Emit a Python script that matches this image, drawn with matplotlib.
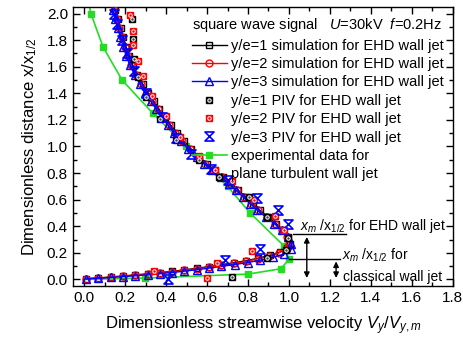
import matplotlib
matplotlib.use("Agg")
import matplotlib.pyplot as plt
from matplotlib.lines import Line2D
from matplotlib.path import Path
from matplotlib.ticker import MultipleLocator, FormatStrFormatter

plt.rcParams['font.family'] = ['Liberation Sans', 'DejaVu Sans']
plt.rcParams['mathtext.fontset'] = 'custom'
plt.rcParams['mathtext.rm'] = 'Liberation Sans'
plt.rcParams['mathtext.it'] = 'Liberation Sans:italic'

# simulation profiles (x = V/Vm, y = x/x1/2)
sim1_v = [0.153, 0.166, 0.178, 0.191, 0.205, 0.220, 0.238, 0.260, 0.286, 0.313, 0.340, 0.366,
          0.393, 0.423, 0.453, 0.486, 0.523, 0.563, 0.598, 0.638, 0.678, 0.718, 0.753, 0.788,
          0.823, 0.858, 0.898, 0.938, 0.973, 0.996, 1.006, 0.992, 0.955, 0.905, 0.850, 0.790,
          0.730, 0.670, 0.610, 0.550, 0.490, 0.430, 0.370, 0.310, 0.250, 0.190, 0.130, 0.070, 0.010]
sim1_y = [2.03, 1.96, 1.89, 1.82, 1.75, 1.68, 1.61, 1.54, 1.47, 1.40, 1.34, 1.28,
          1.22, 1.16, 1.10, 1.04, 0.98, 0.92, 0.87, 0.82, 0.77, 0.72, 0.67, 0.62,
          0.57, 0.52, 0.47, 0.42, 0.37, 0.32, 0.27, 0.235, 0.205, 0.180, 0.160, 0.140,
          0.125, 0.110, 0.097, 0.084, 0.072, 0.061, 0.051, 0.042, 0.034, 0.026, 0.018, 0.011, 0.006]

sim2_v = [0.147, 0.159, 0.171, 0.184, 0.198, 0.213, 0.231, 0.253, 0.279, 0.306, 0.333, 0.359,
          0.386, 0.416, 0.446, 0.479, 0.516, 0.556, 0.591, 0.631, 0.671, 0.711, 0.746, 0.781,
          0.816, 0.851, 0.891, 0.931, 0.966, 0.991, 1.002, 0.990, 0.952, 0.902, 0.850, 0.790,
          0.730, 0.670, 0.610, 0.550, 0.490, 0.430, 0.370, 0.310, 0.250, 0.190, 0.130, 0.070, 0.010]
sim2_y = [2.03, 1.96, 1.89, 1.82, 1.75, 1.68, 1.61, 1.54, 1.47, 1.40, 1.34, 1.28,
          1.22, 1.16, 1.10, 1.04, 0.98, 0.92, 0.87, 0.82, 0.77, 0.72, 0.67, 0.62,
          0.57, 0.52, 0.47, 0.42, 0.37, 0.32, 0.27, 0.235, 0.200, 0.175, 0.155, 0.135,
          0.120, 0.105, 0.092, 0.080, 0.068, 0.058, 0.048, 0.040, 0.032, 0.024, 0.017, 0.010, 0.005]

sim3_v = [0.140, 0.152, 0.164, 0.177, 0.191, 0.206, 0.224, 0.246, 0.272, 0.299, 0.326, 0.352,
          0.379, 0.409, 0.439, 0.472, 0.509, 0.549, 0.586, 0.626, 0.666, 0.706, 0.741, 0.776,
          0.811, 0.846, 0.886, 0.928, 0.965, 0.995, 1.012, 1.010, 0.975, 0.920, 0.860, 0.800,
          0.735, 0.670, 0.610, 0.550, 0.490, 0.430, 0.370, 0.310, 0.250, 0.190, 0.130, 0.070, 0.010]
sim3_y = [2.03, 1.96, 1.89, 1.82, 1.75, 1.68, 1.61, 1.54, 1.47, 1.40, 1.34, 1.28,
          1.22, 1.16, 1.10, 1.04, 0.98, 0.92, 0.87, 0.82, 0.77, 0.72, 0.67, 0.62,
          0.57, 0.52, 0.47, 0.42, 0.37, 0.32, 0.27, 0.225, 0.190, 0.165, 0.145, 0.127,
          0.112, 0.098, 0.085, 0.073, 0.062, 0.052, 0.043, 0.035, 0.028, 0.021, 0.015, 0.009, 0.004]

# PIV measurements
piv1_v = [0.235, 0.240, 0.245, 0.262, 0.300, 0.370, 0.450, 0.560, 0.660, 0.805, 0.895, 0.997, 0.985, 0.895, 0.724]
piv1_y = [1.96, 1.81, 1.66, 1.52, 1.37, 1.21, 1.05, 0.90, 0.77, 0.62, 0.47, 0.31, 0.22, 0.16, 0.02]

piv2_v = [0.222, 0.238, 0.240, 0.263, 0.285, 0.330, 0.400, 0.470, 0.560, 0.640, 0.720, 0.830, 0.930, 0.975, 0.820, 0.650, 0.340, 0.600]
piv2_y = [1.99, 1.87, 1.76, 1.64, 1.53, 1.38, 1.23, 1.07, 0.93, 0.82, 0.74, 0.60, 0.48, 0.37, 0.21, 0.12, 0.06, 0.01]

piv3_v = [0.145, 0.160, 0.185, 0.210, 0.245, 0.300, 0.380, 0.450, 0.520, 0.620, 0.700, 0.846, 0.944, 0.997, 0.860, 0.690, 0.410]
piv3_y = [2.00, 1.92, 1.80, 1.70, 1.57, 1.40, 1.22, 1.06, 0.94, 0.83, 0.75, 0.61, 0.52, 0.42, 0.23, 0.145, 0.005]

# plane turbulent wall jet (experimental)
exp_v = [0.000, 0.296, 0.800, 0.960, 1.000, 0.977, 0.810, 0.700, 0.498, 0.335, 0.185, 0.092, 0.033, 0.020]
exp_y = [0.000, 0.010, 0.040, 0.080, 0.150, 0.250, 0.500, 0.700, 1.000, 1.250, 1.500, 1.750, 2.000, 2.100]

GREEN = '#22dd22'
MS = 5

fig = plt.figure(figsize=(4.64, 3.43), dpi=100)
ax = fig.add_axes([0.157, 0.166, 0.819, 0.814])

ax.plot(exp_v, exp_y, color=GREEN, lw=1.2, marker='s', ms=MS, mfc=GREEN, mec=GREEN,
        markevery=list(range(1, 13)), zorder=2)
ax.plot(sim1_v, sim1_y, color='black', lw=1.0, marker='s', ms=MS, mfc='none', mec='black', mew=1.0, zorder=3)
ax.plot(sim2_v, sim2_y, color='red', lw=1.0, marker='o', ms=MS, mfc='none', mec='red', mew=1.0, zorder=3)
ax.plot(sim3_v, sim3_y, color='blue', lw=1.0, marker='^', ms=MS + 0.5, mfc='none', mec='blue', mew=1.0, zorder=3)

hourglass = Path([(-1, 1), (1, 1), (-1, -1), (1, -1), (-1, 1)],
                 [Path.MOVETO, Path.LINETO, Path.LINETO, Path.LINETO, Path.CLOSEPOLY])

ax.plot(piv1_v, piv1_y, ls='none', marker='s', ms=MS, mfc='black', mec='black', zorder=4)
ax.plot(piv1_v, piv1_y, ls='none', marker='o', ms=2.5, mfc='#444444', mec='white', mew=0.7, zorder=5)
ax.plot(piv2_v, piv2_y, ls='none', marker='s', ms=MS, mfc='red', mec='red', zorder=4)
ax.plot(piv2_v, piv2_y, ls='none', marker='o', ms=2.5, mfc='red', mec='white', mew=0.7, zorder=5)
ax.plot(piv3_v, piv3_y, ls='none', marker=hourglass, ms=6.5, mfc='none', mec='blue', mew=1.2, zorder=4)

ax.set_xlim(-0.055, 1.8)
ax.set_ylim(-0.05, 2.05)
ax.xaxis.set_major_locator(MultipleLocator(0.2))
ax.xaxis.set_minor_locator(MultipleLocator(0.1))
ax.yaxis.set_major_locator(MultipleLocator(0.2))
ax.yaxis.set_minor_locator(MultipleLocator(0.1))
ax.xaxis.set_major_formatter(FormatStrFormatter('%.1f'))
ax.yaxis.set_major_formatter(FormatStrFormatter('%.1f'))
ax.tick_params(which='both', direction='in', top=True, right=True, labelsize=11, width=1.0)
ax.tick_params(which='major', length=5)
ax.tick_params(which='minor', length=3)
for s in ax.spines.values():
    s.set_linewidth(1.0)

ax.set_xlabel(r'Dimensionless streamwise velocity $V_y$/$V_{y,m}$', fontsize=12, labelpad=7)
ax.set_ylabel(r'Dimensionless distance x/x$_{\mathit{1/2}}$', fontsize=12, labelpad=6)

# annotations for x_m positions
ax.plot([1.02, 1.28], [0.34, 0.34], color='black', lw=1.0)
ax.annotate('', xy=(1.087, 0.34), xytext=(1.087, -0.01),
            arrowprops=dict(arrowstyle='<|-|>', color='black', lw=1.0, mutation_scale=8))
ax.text(1.055, 0.405, r'$x_m$ /x$_{\mathit{1/2}}$ for EHD wall jet', fontsize=10, va='center')
ax.plot([1.0, 1.25], [0.156, 0.156], color='black', lw=1.0)
ax.annotate('', xy=(1.23, 0.156), xytext=(1.23, -0.01),
            arrowprops=dict(arrowstyle='<|-|>', color='black', lw=1.0, mutation_scale=8))
ax.text(1.26, 0.18, r'$x_m$ /x$_{\mathit{1/2}}$ for', fontsize=10, va='center')
ax.text(1.265, 0.02, 'classical wall jet', fontsize=10, va='center')

# legend
h1 = Line2D([], [], color='black', lw=1.0, marker='s', ms=MS, mfc='none', mec='black')
h2 = Line2D([], [], color='red', lw=1.0, marker='o', ms=MS, mfc='none', mec='red')
h3 = Line2D([], [], color='blue', lw=1.0, marker='^', ms=MS + 0.5, mfc='none', mec='blue')
h4 = (Line2D([], [], ls='none', marker='s', ms=MS, mfc='black', mec='black'),
      Line2D([], [], ls='none', marker='o', ms=2.5, mfc='#444444', mec='white', mew=0.7))
h5 = (Line2D([], [], ls='none', marker='s', ms=MS, mfc='red', mec='red'),
      Line2D([], [], ls='none', marker='o', ms=2.5, mfc='red', mec='white', mew=0.7))
h6 = Line2D([], [], ls='none', marker=hourglass, ms=6.5, mfc='none', mec='blue', mew=1.2)
h7 = Line2D([], [], color=GREEN, lw=1.2, marker='s', ms=MS, mfc=GREEN, mec=GREEN)
h8 = Line2D([], [], ls='none')
labels = ['y/e=1 simulation for EHD wall jet', 'y/e=2 simulation for EHD wall jet',
          'y/e=3 simulation for EHD wall jet', 'y/e=1 PIV for EHD wall jet',
          'y/e=2 PIV for EHD wall jet', 'y/e=3 PIV for EHD wall jet',
          'experimental data for', 'plane turbulent wall jet']
leg = ax.legend([h1, h2, h3, h4, h5, h6, h7, h8], labels, loc='upper right',
                bbox_to_anchor=(1.0, 1.0), frameon=False, fontsize=10.5,
                title=r'square wave signal   $U$=30kV  $f$=0.2Hz', title_fontsize=10.5,
                alignment='left', handlelength=2.4, handletextpad=0.25,
                labelspacing=0.3, borderpad=0.55, borderaxespad=0.1)

fig.savefig('out.png', dpi=100)
